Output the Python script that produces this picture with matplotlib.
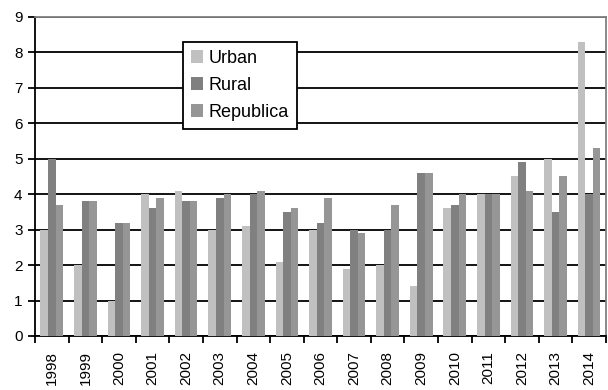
import matplotlib.pyplot as plt
import numpy as np

plt.rcParams["font.family"] = ["Liberation Sans", "DejaVu Sans"]
plt.rcParams["font.size"] = 11

years = ["1998", "1999", "2000", "2001", "2002", "2003", "2004", "2005", "2006",
         "2007", "2008", "2009", "2010", "2011", "2012", "2013", "2014"]
urban = [3.0, 2.0, 1.0, 4.0, 4.1, 3.0, 3.1, 2.1, 3.0, 1.9, 2.0, 1.4, 3.6, 4.0, 4.5, 5.0, 8.3]
rural = [5.0, 3.8, 3.2, 3.6, 3.8, 3.9, 4.0, 3.5, 3.2, 3.0, 3.0, 4.6, 3.7, 4.0, 4.9, 3.5, 4.0]
republica = [3.7, 3.8, 3.2, 3.9, 3.8, 4.0, 4.1, 3.6, 3.9, 2.9, 3.7, 4.6, 4.0, 4.0, 4.1, 4.5, 5.3]

series = [("Urban", urban, "#c0c0c0"),
          ("Rural", rural, "#808080"),
          ("Republica", republica, "#969696")]

fig = plt.figure(figsize=(6.08, 3.9), dpi=100)
ax = fig.add_axes([0.0576, 0.1385, 0.939, 0.818])

x = np.arange(len(years))
w = 0.225
for i, (name, vals, col) in enumerate(series):
    ax.bar(x + (i - 1) * w, vals, w, color=col, label=name, zorder=3)

ax.set_xlim(-0.5, len(years) - 0.5)
ax.set_ylim(0, 9)
ax.set_yticks(range(10))
ax.yaxis.grid(True, color="black", linewidth=1.3, zorder=0)

ax.set_xticks(x)
ax.set_xticklabels(years, rotation=90)
ax.set_xticks(np.arange(-0.5, len(years)), minor=True)
ax.tick_params(axis="x", which="major", length=0, pad=11)
ax.tick_params(axis="x", which="minor", length=5, width=1.3, direction="out")
ax.tick_params(axis="y", length=5, width=1.3, direction="out", pad=4)

for s in ["left", "bottom"]:
    ax.spines[s].set_color("black")
    ax.spines[s].set_linewidth(1.3)
for s in ["top", "right"]:
    ax.spines[s].set_color("#808080")
    ax.spines[s].set_linewidth(1.3)

leg = ax.legend(loc="upper left", bbox_to_anchor=(0.259, 0.922), borderaxespad=0,
                fancybox=False, framealpha=1, edgecolor="black", fontsize=13,
                handlelength=0.67, handleheight=0.67, handletextpad=0.3,
                labelspacing=0.55, borderpad=0.45)
leg.get_frame().set_linewidth(1.3)

plt.savefig("out.png", dpi=100)
